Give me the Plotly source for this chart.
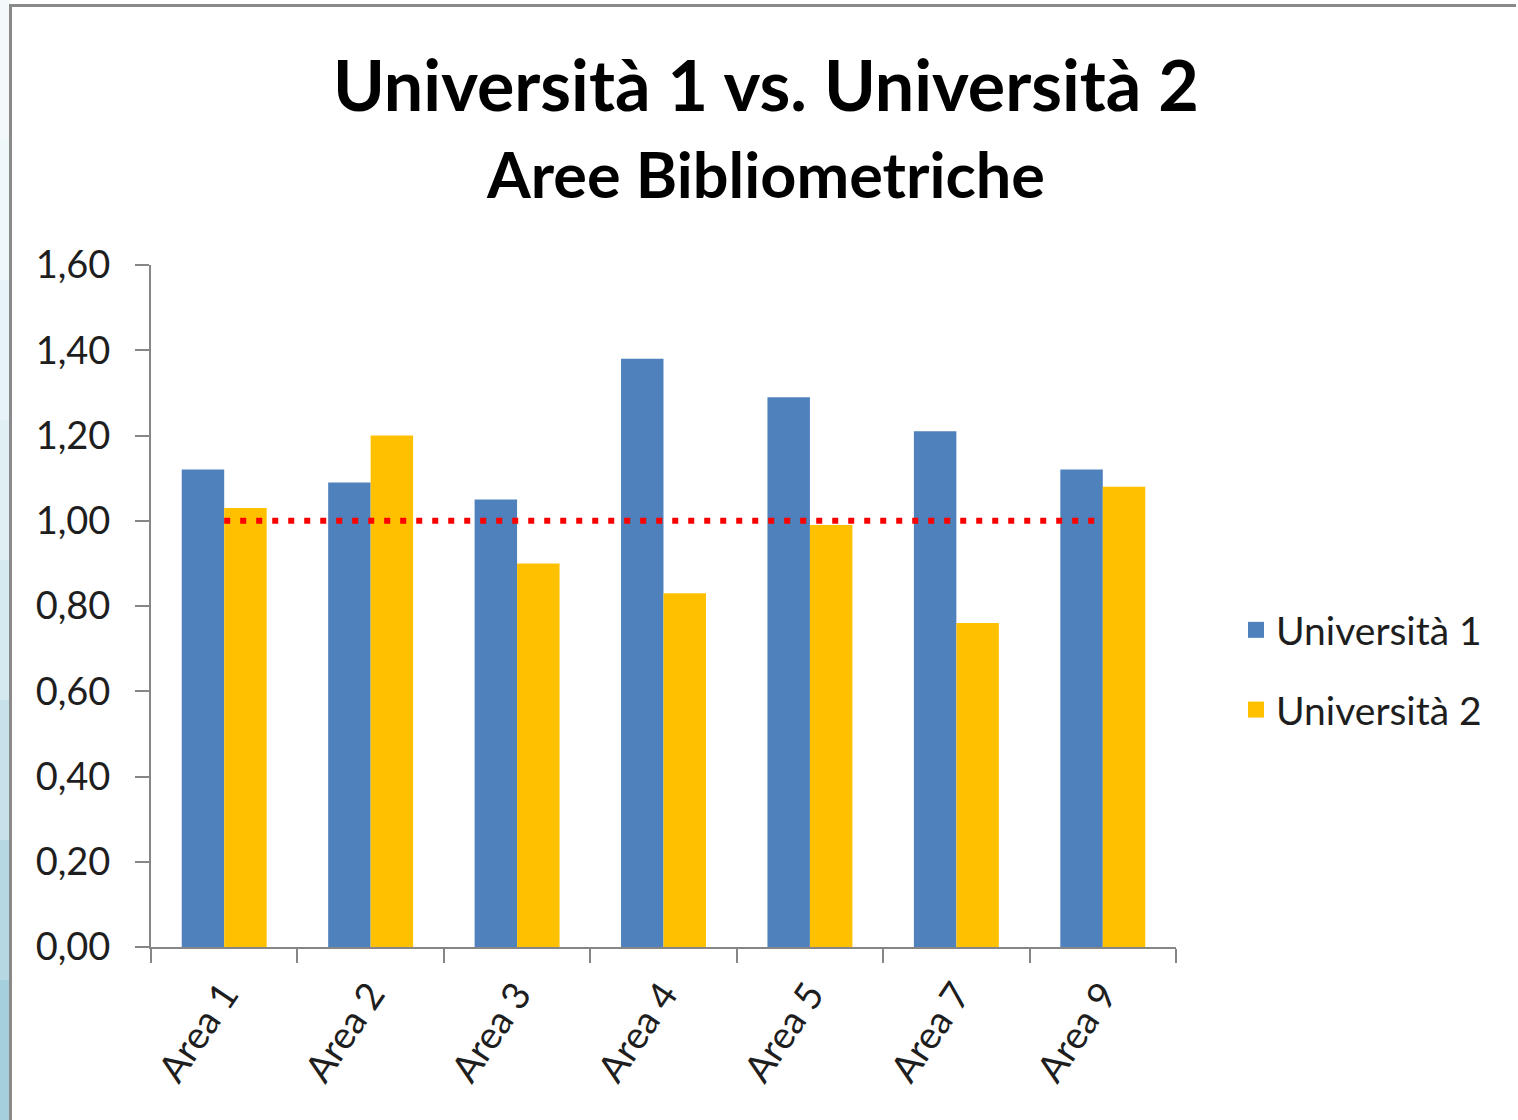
import plotly.graph_objects as go

# ---- data -------------------------------------------------------------
AREAS = ["Area 1", "Area 2", "Area 3", "Area 4", "Area 5", "Area 7", "Area 9"]
UNI_1 = [1.12, 1.09, 1.05, 1.38, 1.29, 1.21, 1.12]
UNI_2 = [1.03, 1.20, 0.90, 0.83, 0.99, 0.76, 1.08]
REFERENCE = 1.00
Y_TICKS = [0.0, 0.2, 0.4, 0.6, 0.8, 1.0, 1.2, 1.4, 1.6]

BLUE = "#4F81BD"
GOLD = "#FFC000"
RED = "#FF0000"
AXIS_GRAY = "#868686"
TEXT = "#1e1e1e"
FONT = "Lato"

W, H = 1518, 1120
ML, MR, MT, MB = 151, 342, 265, 173
PLOT_W = W - ML - MR
PLOT_H = H - MT - MB


def px_x(px):
    return (px - ML) / PLOT_W


def px_y(py):
    return (H - MB - py) / PLOT_H


fig = go.Figure()

fig.add_trace(go.Bar(x=AREAS, y=UNI_1, name="Università 1", marker=dict(color=BLUE, line_width=0),
                     showlegend=False))
fig.add_trace(go.Bar(x=AREAS, y=UNI_2, name="Università 2", marker=dict(color=GOLD, line_width=0),
                     showlegend=False))

# reference line at 1,00
fig.add_trace(go.Scatter(x=[AREAS[0], AREAS[-1]], y=[REFERENCE, REFERENCE], mode="lines",
                         line=dict(color=RED, width=6, dash="6px,10px"), showlegend=False,
                         hoverinfo="skip"))

# legend entries (square swatches)
for name, col, grp in [("Università 1", BLUE, "a"), ("Università 2", GOLD, "b")]:
    fig.add_trace(go.Scatter(x=[None], y=[None], mode="markers", name=name, legendgroup=grp,
                             marker=dict(symbol="square", size=16, color=col)))

# left page strip + chart border
strip = ["#f3f9fb", "#eef7fa", "#e8f3f7", "#e0eff4", "#d4e9f0", "#c6e1ea", "#b6d8e3", "#a6cfdc"]
n = len(strip)
for i, c in enumerate(strip):
    fig.add_shape(type="rect", xref="paper", yref="paper", x0=px_x(0), x1=px_x(10),
                  y0=px_y(H * (i + 1) / n), y1=px_y(H * i / n), fillcolor=c, line_width=0,
                  layer="below")
fig.add_shape(type="line", xref="paper", yref="paper", x0=px_x(10.5), x1=px_x(10.5),
              y0=px_y(5), y1=px_y(H), line=dict(color="#8a8a8a", width=3))
fig.add_shape(type="line", xref="paper", yref="paper", x0=px_x(9), x1=px_x(1516),
              y0=px_y(5.5), y1=px_y(5.5), line=dict(color="#8a8a8a", width=3))

fig.add_annotation(text="<b>Aree Bibliometriche</b>", xref="paper", yref="paper",
                   x=px_x(765), y=px_y(174), xanchor="center", yanchor="middle", showarrow=False,
                   font=dict(family=FONT, size=63, color="#000"))

fig.update_layout(
    width=W, height=H,
    paper_bgcolor="#ffffff", plot_bgcolor="#ffffff",
    margin=dict(l=ML, r=MR, t=MT, b=MB, autoexpand=False),
    barmode="group", bargap=0.42, bargroupgap=0,
    separators=",.",
    font=dict(family=FONT, size=38, color=TEXT),
    title=dict(text="<b>Università 1 vs. Università 2</b>", x=766 / W, xanchor="center",
               y=1 - 86 / H, yanchor="middle", font=dict(family=FONT, size=70, color="#000")),
    legend=dict(x=px_x(1236), xanchor="left", y=px_y(670), yanchor="middle",
                font=dict(family=FONT, size=39, color=TEXT), tracegroupgap=26,
                bgcolor="rgba(0,0,0,0)", itemwidth=30),
    showlegend=True,
)

fig.update_yaxes(range=[0, 1.6], tickvals=Y_TICKS, tickformat=".2f", showgrid=False,
                 zeroline=False, showline=True, linecolor=AXIS_GRAY, linewidth=2,
                 ticks="outside", ticklen=14, tickwidth=2, tickcolor=AXIS_GRAY,
                 ticklabelstandoff=17)
fig.update_xaxes(showgrid=False, showline=True, linecolor=AXIS_GRAY, linewidth=2,
                 ticks="outside", ticklen=14, tickwidth=2, tickcolor=AXIS_GRAY,
                 tickson="boundaries", tickangle=-56, ticklabelstandoff=8)

fig.write_html("out.html", config={"displayModeBar": False},
               post_script="document.body.style.margin='0';")
